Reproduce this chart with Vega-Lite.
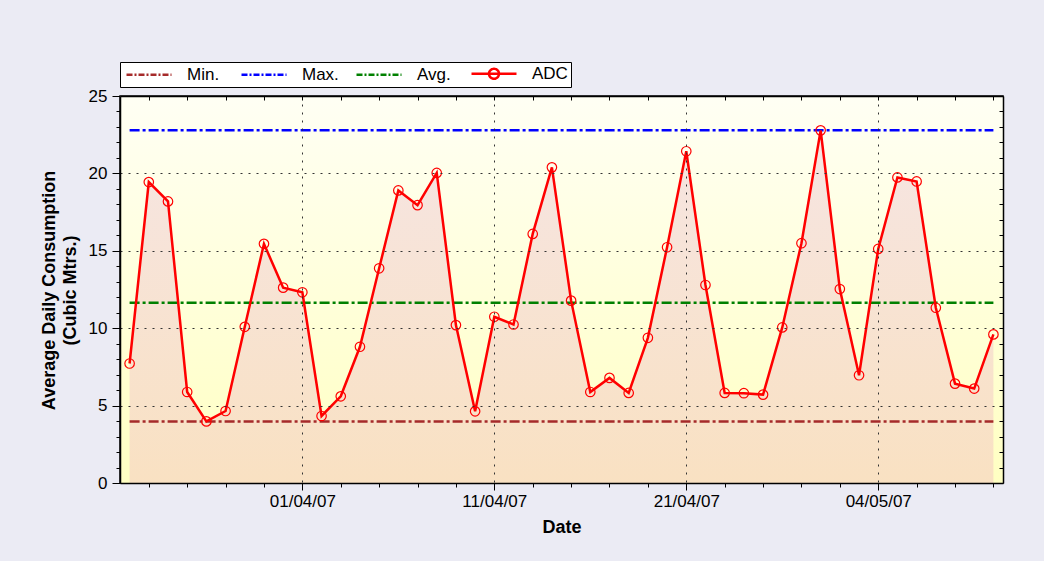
{
  "$schema": "https://vega.github.io/schema/vega-lite/v6.json",
  "width": 883,
  "height": 387,
  "autosize": {"type": "none"},
  "padding": {"left": 120, "top": 96, "right": 41, "bottom": 78},
  "background": "#EBEBF4",
  "config": {
    "font": "Liberation Sans",
    "view": {"stroke": "#000000", "strokeWidth": 1.5},
    "axis": {"labelFont": "Liberation Sans", "titleFont": "Liberation Sans", "labelColor": "#000000", "titleColor": "#000000", "tickColor": "#000000", "domainColor": "#000000"}
  },
  "datasets": {
    "adc": [
      {"i": 0, "v": 7.72}, {"i": 1, "v": 19.44}, {"i": 2, "v": 18.19}, {"i": 3, "v": 5.88},
      {"i": 4, "v": 3.98}, {"i": 5, "v": 4.65}, {"i": 6, "v": 10.09}, {"i": 7, "v": 15.45},
      {"i": 8, "v": 12.62}, {"i": 9, "v": 12.32}, {"i": 10, "v": 4.33}, {"i": 11, "v": 5.6},
      {"i": 12, "v": 8.8}, {"i": 13, "v": 13.87}, {"i": 14, "v": 18.9}, {"i": 15, "v": 17.95},
      {"i": 16, "v": 20.03}, {"i": 17, "v": 10.2}, {"i": 18, "v": 4.63}, {"i": 19, "v": 10.74},
      {"i": 20, "v": 10.24}, {"i": 21, "v": 16.09}, {"i": 22, "v": 20.39}, {"i": 23, "v": 11.78},
      {"i": 24, "v": 5.88}, {"i": 25, "v": 6.79}, {"i": 26, "v": 5.82}, {"i": 27, "v": 9.38},
      {"i": 28, "v": 15.23}, {"i": 29, "v": 21.43}, {"i": 30, "v": 12.79}, {"i": 31, "v": 5.82},
      {"i": 32, "v": 5.8}, {"i": 33, "v": 5.71}, {"i": 34, "v": 10.05}, {"i": 35, "v": 15.49},
      {"i": 36, "v": 22.78}, {"i": 37, "v": 12.53}, {"i": 38, "v": 6.96}, {"i": 39, "v": 15.12},
      {"i": 40, "v": 19.74}, {"i": 41, "v": 19.48}, {"i": 42, "v": 11.32}, {"i": 43, "v": 6.42},
      {"i": 44, "v": 6.1}, {"i": 45, "v": 9.6}
    ],
    "stats": [
      {"series": "Min.", "value": 3.98},
      {"series": "Max.", "value": 22.78},
      {"series": "Avg.", "value": 11.65}
    ]
  },
  "layer": [
    {
      "data": {"values": [{}]},
      "mark": {"type": "rect", "color": {"gradient": "linear", "x1": 0, "y1": 0, "x2": 0, "y2": 1, "stops": [{"offset": 0, "color": "#FFFFF4"}, {"offset": 1, "color": "#FFFFC2"}]}},
      "encoding": {
        "x": {"datum": -0.5, "type": "quantitative",
          "scale": {"domain": [-0.5, 45.5], "nice": false, "zero": false},
          "axis": {"orient": "bottom", "values": [9, 19, 29, 39],
            "labelExpr": "datum.value == 9 ? '01/04/07' : datum.value == 19 ? '11/04/07' : datum.value == 29 ? '21/04/07' : '04/05/07'",
            "grid": true, "gridDash": [2, 6], "gridColor": "#333333", "gridWidth": 1,
            "domain": true, "domainWidth": 1.5, "tickSize": 7, "tickWidth": 1,
            "labelFontSize": 17, "labelPadding": 3, "labelFlush": false,
            "title": "Date", "titleFontSize": 18, "titleFontWeight": "bold", "titlePadding": 9, "zindex": 1}},
        "x2": {"datum": 45.5},
        "y": {"datum": 0, "type": "quantitative",
          "scale": {"domain": [0, 25], "nice": false},
          "axis": {"orient": "left", "values": [0, 5, 10, 15, 20, 25],
            "grid": true, "gridDash": [2, 6], "gridColor": "#333333", "gridWidth": 1,
            "domain": true, "domainWidth": 1.5, "tickSize": 8, "tickWidth": 1,
            "labelFontSize": 17, "labelPadding": 5,
            "title": ["Average Daily Consumption", "(Cubic Mtrs.)"], "titleFontSize": 18, "titleFontWeight": "bold",
            "titleAngle": 270, "titleX": -71, "titleY": 194, "titleAlign": "center", "titleBaseline": "middle", "titleLineHeight": 21, "zindex": 1}},
        "y2": {"datum": 25}
      }
    },
    {
      "data": {"name": "adc"},
      "mark": {"type": "area", "color": {"gradient": "linear", "x1": 0, "y1": 0, "x2": 0, "y2": 1, "stops": [{"offset": 0, "color": "#F6E5E3"}, {"offset": 1, "color": "#F9E1C2"}]}},
      "encoding": {
        "x": {"field": "i", "type": "quantitative",
          "axis": {"orient": "bottom", "values": [1,3,5,7,11,13,15,17,21,23,25,27,31,33,35,37,41,43,45], "labels": false, "domain": false, "grid": false, "tickSize": 4, "title": null, "zindex": 1}},
        "y": {"field": "v", "type": "quantitative",
          "axis": {"orient": "left", "values": [1,2,3,4,6,7,8,9,11,12,13,14,16,17,18,19,21,22,23,24], "labels": false, "domain": false, "grid": false, "tickSize": 4, "title": null, "zindex": 1}}
      }
    },
    {
      "data": {"name": "stats"},
      "mark": {"type": "rule", "strokeWidth": 2.5, "strokeDash": [10, 3, 3, 3]},
      "encoding": {
        "x": {"datum": 0, "type": "quantitative", "axis": null},
        "x2": {"datum": 45},
        "y": {"field": "value", "type": "quantitative", "axis": null},
        "color": {"field": "series", "type": "nominal",
          "scale": {"domain": ["Min.", "Max.", "Avg.", "ADC"], "range": ["#A52A2A", "#0000FF", "#008000", "#FF0000"]},
          "legend": {"orient": "none", "legendX": 0, "legendY": -34, "direction": "horizontal", "columns": 4, "gridAlign": "all",
            "title": null, "symbolType": "M-1,0H8", "symbolSize": 100, "symbolStrokeWidth": 2.5,
            "labelOffset": 47, "labelFontSize": 17, "labelColor": "#000000", "labelFont": "Liberation Sans", "columnPadding": 12,
            "padding": 3, "strokeColor": "#000000", "fillColor": "#FFFFFF",
            "encode": {"symbols": {"update": {
              "strokeDash": {"signal": "datum.value === 'ADC' ? [1, 0] : [6, 2, 2, 2]"},
              "shape": {"signal": "datum.value === 'ADC' ? 'M-1,0H8M4.5,0A1,1,0,1,1,2.5,0A1,1,0,1,1,4.5,0' : 'M-1,0H8'"},
              "fill": {"value": "transparent"}}}}}}
      }
    },
    {
      "data": {"name": "adc"},
      "mark": {"type": "line", "color": "#FF0000", "strokeWidth": 2.5},
      "encoding": {
        "x": {"field": "i", "type": "quantitative",
          "axis": {"orient": "top", "values": [1,3,5,7,9,11,13,15,17,19,21,23,25,27,29,31,33,35,37,39,41,43,45], "labels": false, "domain": true, "domainWidth": 1.5, "grid": false, "tickSize": -4, "title": null, "zindex": 1}},
        "y": {"field": "v", "type": "quantitative",
          "axis": {"orient": "right", "values": [1,2,3,4,5,6,7,8,9,10,11,12,13,14,15,16,17,18,19,20,21,22,23,24], "labels": false, "domain": true, "domainWidth": 1.5, "grid": false, "tickSize": -4, "title": null, "zindex": 1}}
      }
    },
    {
      "data": {"name": "adc"},
      "mark": {"type": "point", "filled": false, "color": "#FF0000", "size": 90, "strokeWidth": 1.2, "opacity": 1},
      "encoding": {
        "x": {"field": "i", "type": "quantitative", "axis": null},
        "y": {"field": "v", "type": "quantitative", "axis": null}
      }
    }
  ],
  "resolve": {"axis": {"x": "independent", "y": "independent"}}
}
